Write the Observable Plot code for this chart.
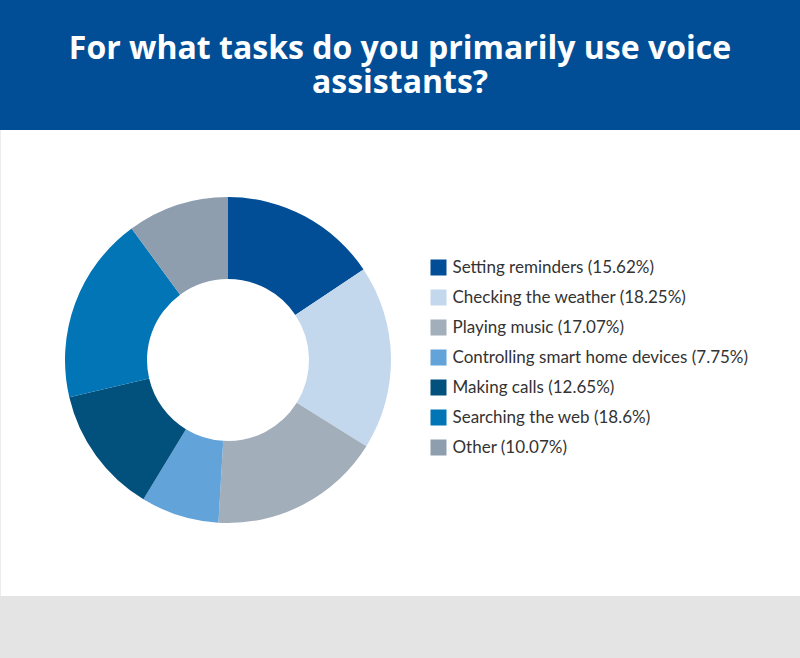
<!DOCTYPE html>
<html>
<head>
<meta charset="utf-8">
<script src="https://cdn.jsdelivr.net/npm/d3@7"></script>
<script src="https://cdn.jsdelivr.net/npm/@observablehq/plot@0.6"></script>
<style>
  html, body { margin: 0; padding: 0; background: #e4e4e4; }
  #wrap { width: 800px; height: 658px; position: relative; overflow: hidden; }
  #header { height: 130px; background: #024e96; display: flex; align-items: center; justify-content: center; }
  #header h1 { margin: 0; padding: 0 40px 2px; color: #fff; font-family: "Open Sans", sans-serif; font-weight: 700; font-size: 32px; line-height: 34px; text-align: center; }
  #panel { height: 466px; background: #fff; border-left: 1px solid #ececec; box-sizing: border-box; }
  #panel svg { display: block; }
  #footer { height: 62px; background: #e4e4e4; }
</style>
</head>
<body>
<div id="wrap">
  <div id="header"><h1>For what tasks do you primarily use voice assistants?</h1></div>
  <div id="panel"></div>
  <div id="footer"></div>
</div>
<script>
const labels = ["Setting reminders", "Checking the weather", "Playing music", "Controlling smart home devices", "Making calls", "Searching the web", "Other"];
const values = [15.62, 18.25, 17.07, 7.75, 12.65, 18.6, 10.07];
const colors = ["#014d96", "#c3d8ec", "#a3aebb", "#62a3d9", "#02507c", "#0175b5", "#8e9eae"];

const data = labels.map((label, i) => ({label, value: values[i]}));

function donut(rows, {cx, cy, r0, r1}) {
  return (index, scales) => {
    const pie = d3.pie().sort(null).value(d => d.value)(rows);
    const arc = d3.arc().innerRadius(r0).outerRadius(r1);
    const g = d3.create("svg:g").attr("transform", `translate(${cx},${cy})`);
    g.selectAll("path").data(pie).join("path")
      .attr("d", arc)
      .attr("fill", d => scales.color(d.data.label));
    return g.node();
  };
}

const chart = Plot.plot({
  width: 799,
  height: 466,
  margin: 0,
  style: {background: "#fff", fontFamily: "Lato, sans-serif"},
  x: {axis: null},
  y: {type: "point", domain: labels, range: [137, 317], padding: 0, axis: null},
  color: {domain: labels, range: colors},
  marks: [
    donut(data, {cx: 227, cy: 230, r0: 81, r1: 163}),
    Plot.dot(data, {y: "label", fill: "label", symbol: "square", r: 9.03, frameAnchor: "left", dx: 437}),
    Plot.text(data, {
      y: "label",
      text: d => `${d.label} (${d.value}%)`,
      frameAnchor: "left",
      dx: 451,
      textAnchor: "start",
      fontSize: 17,
      fill: "#333"
    })
  ]
});
document.getElementById("panel").appendChild(chart);
</script>
</body>
</html>
